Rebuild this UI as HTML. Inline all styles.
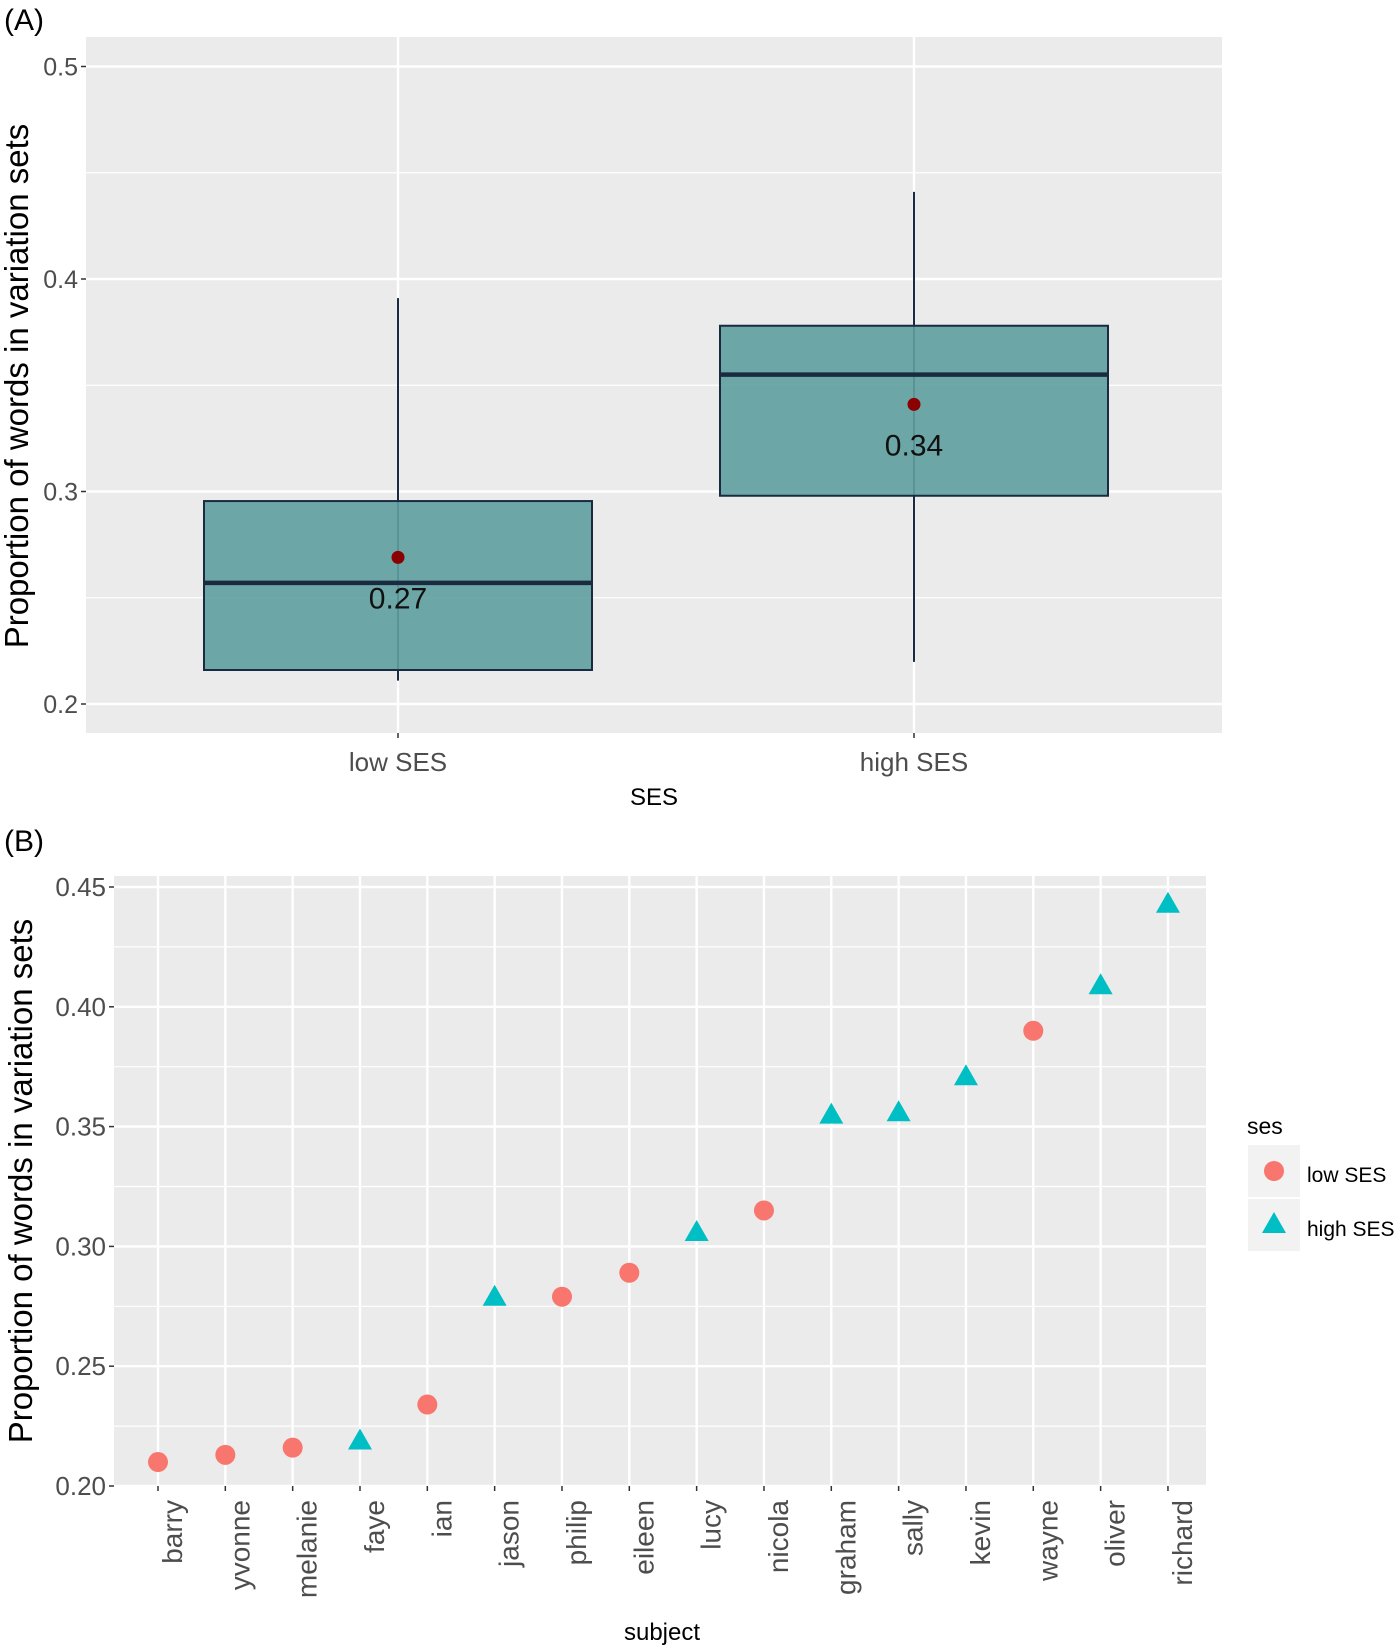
<!DOCTYPE html>
<html><head><meta charset="utf-8"><style>
html,body{margin:0;padding:0;background:#fff;}
svg{display:block;font-family:"Liberation Sans",Arial,sans-serif;}
</style></head><body>
<svg id="fig" width="1400" height="1648" viewBox="0 0 1400 1648" xmlns="http://www.w3.org/2000/svg">
<text x="4" y="30" font-size="30" fill="#000">(A)</text>
<text x="4" y="851" font-size="30" fill="#000">(B)</text>
<g id="pa"></g>
<g id="pb"></g>
</svg>
<script>
// Panel A data
const groupsA = ["low SES", "high SES"];
const q1A = [0.216, 0.298];
const medA = [0.257, 0.355];
const q3A = [0.2955, 0.378];
const whiskLoA = [0.211, 0.2198];
const whiskHiA = [0.391, 0.441];
const meanA = [0.269, 0.341];
const meanLabelsA = ["0.27", "0.34"];
const yTicksA = [0.2, 0.3, 0.4, 0.5];
const yTickLabelsA = ["0.2", "0.3", "0.4", "0.5"];
const yMinorA = [0.25, 0.35, 0.45];

// Panel B data
const subjects = ["barry","yvonne","melanie","faye","ian","jason","philip","eileen","lucy","nicola","graham","sally","kevin","wayne","oliver","richard"];
const propB = [0.210,0.213,0.216,0.219,0.234,0.279,0.279,0.289,0.306,0.315,0.355,0.356,0.371,0.390,0.409,0.443];
const sesB = ["low","low","low","high","low","high","low","low","high","low","high","high","high","low","high","high"];
const yTicksB = [0.20,0.25,0.30,0.35,0.40,0.45];
const yTickLabelsB = ["0.20","0.25","0.30","0.35","0.40","0.45"];

const NS="http://www.w3.org/2000/svg";
function mk(parent,tag,attrs,txt){const e=document.createElementNS(NS,tag);for(const k in attrs)e.setAttribute(k,attrs[k]);if(txt!==undefined)e.textContent=txt;parent.appendChild(e);return e;}

// ---------- Panel A ----------
const pa=document.getElementById('pa');
const A={x0:86,x1:1222,y0:37,y1:733};
const yA=v=>704-(v-0.2)*2125;
const xA=i=>[398,914][i];
let bg=mk(pa,'rect',{x:A.x0,y:A.y0,width:A.x1-A.x0,height:A.y1-A.y0,fill:'#ebebeb'});


yMinorA.forEach(v=>{let l=mk(pa,'line',{x1:A.x0,x2:A.x1,y1:yA(v),y2:yA(v),stroke:'#fff','stroke-width':1.2});

});
yTicksA.forEach((v,i)=>{let l=mk(pa,'line',{x1:A.x0,x2:A.x1,y1:yA(v),y2:yA(v),stroke:'#fff','stroke-width':2.4});


mk(pa,'line',{x1:A.x0-5,x2:A.x0,y1:yA(v),y2:yA(v),stroke:'#333','stroke-width':1.5});
let t=mk(pa,'text',{x:A.x0-8,y:yA(v)+9,'text-anchor':'end','font-size':25,fill:'#4d4d4d'},yTickLabelsA[i]);

});
groupsA.forEach((g,i)=>{const cx=xA(i);
mk(pa,'line',{x1:cx,x2:cx,y1:A.y0,y2:A.y1,stroke:'#fff','stroke-width':2.4});
let w=mk(pa,'line',{x1:cx,x2:cx,y1:yA(whiskHiA[i]),y2:yA(whiskLoA[i]),stroke:'#1a2a40','stroke-width':2});


let b=mk(pa,'rect',{x:cx-194,y:yA(q3A[i]),width:388,height:yA(q1A[i])-yA(q3A[i]),fill:'#5f9ea0','fill-opacity':0.9,stroke:'#1a2a40','stroke-width':2});


let m=mk(pa,'line',{x1:cx-194,x2:cx+194,y1:yA(medA[i]),y2:yA(medA[i]),stroke:'#1a2a40','stroke-width':4.5});


let d=mk(pa,'circle',{cx:cx,cy:yA(meanA[i]),r:6.5,fill:'#8b0000'});


let ml=mk(pa,'text',{x:cx,y:yA(meanA[i])+51,'text-anchor':'middle','font-size':30,fill:'#111'},meanLabelsA[i]);


mk(pa,'line',{x1:cx,x2:cx,y1:A.y1,y2:A.y1+5,stroke:'#333','stroke-width':1.5});
let xl=mk(pa,'text',{x:cx,y:771,'text-anchor':'middle','font-size':26,fill:'#4d4d4d'},g);

});
let xt=mk(pa,'text',{x:654,y:805,'text-anchor':'middle','font-size':24,fill:'#000'},'SES');


let yt=mk(pa,'text',{x:0,y:0,'text-anchor':'middle','font-size':33,fill:'#000',transform:'translate(28,386) rotate(-90)'},'Proportion of words in variation sets');



// ---------- Panel B ----------
const pb=document.getElementById('pb');
const B={x0:114,x1:1206,y0:876,y1:1486};
const yB=v=>1486-(v-0.2)*(599/0.25);
const xB=i=>158+i*67.33;
let bgb=mk(pb,'rect',{x:B.x0,y:B.y0,width:B.x1-B.x0,height:B.y1-B.y0,fill:'#ebebeb'});


yTicksB.forEach((v,i)=>{if(i<yTicksB.length-1){const mv=v+0.025;mk(pb,'line',{x1:B.x0,x2:B.x1,y1:yB(mv),y2:yB(mv),stroke:'#fff','stroke-width':1.2});}});
yTicksB.forEach((v,i)=>{let l=mk(pb,'line',{x1:B.x0,x2:B.x1,y1:yB(v),y2:yB(v),stroke:'#fff','stroke-width':2.4});


mk(pb,'line',{x1:B.x0-5,x2:B.x0,y1:yB(v),y2:yB(v),stroke:'#333','stroke-width':1.5});
let t=mk(pb,'text',{x:B.x0-8,y:yB(v)+9,'text-anchor':'end','font-size':26,fill:'#4d4d4d'},yTickLabelsB[i]);

});
subjects.forEach((s,i)=>{const cx=xB(i);
mk(pb,'line',{x1:cx,x2:cx,y1:B.y0,y2:B.y1,stroke:'#fff','stroke-width':2.4});
mk(pb,'line',{x1:cx,x2:cx,y1:B.y1,y2:B.y1+5,stroke:'#333','stroke-width':1.5});
let t=mk(pb,'text',{x:0,y:0,'text-anchor':'end','font-size':28,fill:'#4d4d4d',transform:'translate('+(cx+24)+',1500) rotate(-90)'},s);

});
subjects.forEach((s,i)=>{const cx=xB(i),cy=yB(propB[i]);let e;
if(sesB[i]==='low'){e=mk(pb,'circle',{cx:cx,cy:cy,r:10,fill:'#f8766d'});}
else{e=mk(pb,'polygon',{points:(cx)+','+(cy-12)+' '+(cx-12)+','+(cy+9)+' '+(cx+12)+','+(cy+9),fill:'#00bfc4'});}

});
let xtb=mk(pb,'text',{x:662,y:1640,'text-anchor':'middle','font-size':24,fill:'#000'},'subject');


let ytb=mk(pb,'text',{x:0,y:0,'text-anchor':'middle','font-size':33,fill:'#000',transform:'translate(32,1181) rotate(-90)'},'Proportion of words in variation sets');


// legend
const lg=mk(pb,'g',{});


let lt=mk(lg,'text',{x:1247,y:1134,'font-size':23,fill:'#000'},'ses');


mk(lg,'rect',{x:1248,y:1145,width:52,height:52,fill:'#f2f2f2'});
mk(lg,'rect',{x:1248,y:1199,width:52,height:52,fill:'#f2f2f2'});
let lc=mk(lg,'circle',{cx:1274,cy:1171,r:10,fill:'#f8766d'});


let ltr=mk(lg,'polygon',{points:'1274,1212 1262,1233 1286,1233',fill:'#00bfc4'});


let l1=mk(lg,'text',{x:1307,y:1182,'font-size':21,fill:'#000'},'low SES');


let l2=mk(lg,'text',{x:1307,y:1236,'font-size':21,fill:'#000'},'high SES');


</script>
</body></html>
